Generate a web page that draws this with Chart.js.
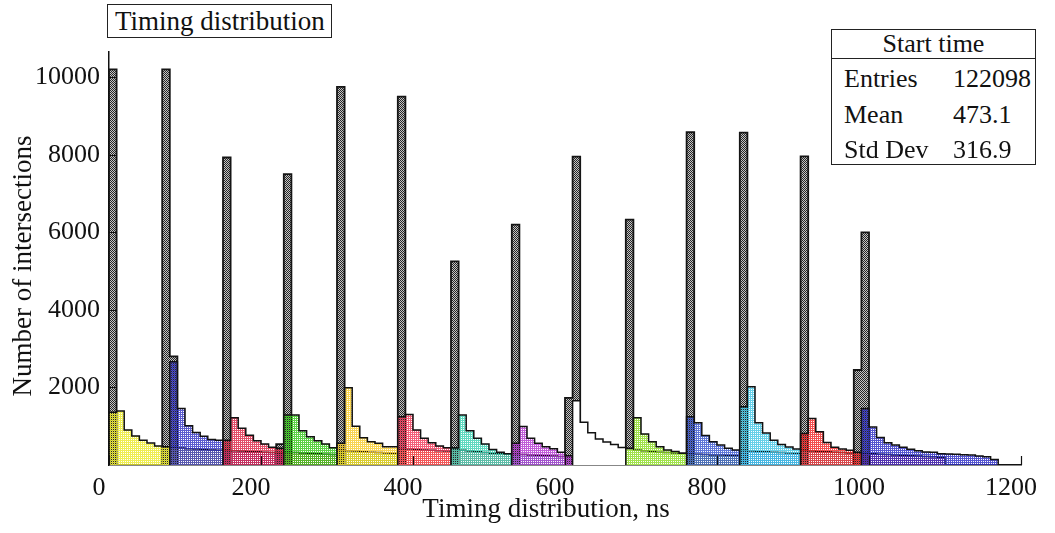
<!DOCTYPE html>
<html>
<head>
<meta charset="utf-8">
<script src="https://cdn.jsdelivr.net/npm/chart.js@4.4.1/dist/chart.umd.min.js"></script>
<style>
  html, body { margin: 0; padding: 0; background: #fff; }
  #wrap { position: relative; width: 1055px; height: 533px; font-family: "Liberation Serif", "Times New Roman", serif; color: #111; }
  #chart { position: absolute; left: 0; top: 0; }
  .box { position: absolute; border: 1px solid #222; box-sizing: border-box; background: #fff; }
  #title { left: 107px; top: 4px; width: 225px; height: 34px; font-size: 27px; line-height: 32px; padding-left: 7px; white-space: nowrap; }
  #stats { left: 831px; top: 29px; width: 205px; height: 136px; font-size: 26px; }
  #stats .head { height: 28px; line-height: 28px; text-align: center; border-bottom: 1px solid #222; }
  #stats .row { position: relative; height: 35.5px; line-height: 35.5px; }
  #stats .row span { position: absolute; }
  #stats .row .k { left: 12px; }
  #stats .row .v { left: 121px; }
  #xtitle { position: absolute; left: 346px; width: 400px; top: 492px; text-align: center; font-size: 27px; line-height: 32px; }
  #ytitle { position: absolute; left: 22px; top: 266px; width: 320px; margin-left: -160px; margin-top: -16px; text-align: center; font-size: 27px; line-height: 32px; transform: rotate(-90deg); white-space: nowrap; }
</style>
</head>
<body>
<div id="wrap">
  <canvas id="chart" width="1055" height="533"></canvas>
  <div id="title" class="box">Timing distribution</div>
  <div id="stats" class="box">
    <div class="head">Start time</div>
    <div style="height:2px"></div>
    <div class="row"><span class="k">Entries</span><span class="v">122098</span></div>
    <div class="row"><span class="k">Mean</span><span class="v">473.1</span></div>
    <div class="row"><span class="k">Std Dev</span><span class="v">316.9</span></div>
  </div>
  <div id="xtitle">Timing distribution, ns</div>
  <div id="ytitle">Number of intersections</div>
</div>
<script>
"use strict";

const binWidth = 10; // ns
const xTicks = [0, 200, 400, 600, 800, 1000, 1200];
const yTicks = [2000, 4000, 6000, 8000, 10000];

// "Start time" peaks: bin low edge (ns) and content
const startBins = [0, 70, 80, 150, 220, 230, 300, 380, 450, 530, 600, 610, 680, 760, 830, 910, 980, 990];
const startCounts = [10200, 10200, 2800, 7930, 540, 7500, 9750, 9500, 5250, 6200, 1730, 7950, 6330, 8580, 8570, 7960, 2450, 6000];

// coloured histograms: first bin low edge (ns) and bin contents
const yellowStart = 0;
const yellowCounts = [1360, 1390, 900, 750, 640, 570, 490, 470, 450, 440, 420, 410, 400, 390, 380];
const blueStart = 80;
const blueCounts = [2660, 1460, 1010, 840, 740, 660, 640, 380, 370, 360, 350, 340, 330, 320, 310];
const redStart = 150;
const redCounts = [640, 1220, 945, 770, 625, 540, 455, 430, 330, 320, 310, 300, 290, 280, 270];
const greenStart = 230;
const greenCounts = [1290, 1290, 880, 730, 625, 540, 445, 385, 370, 360, 340, 330, 320, 310, 300];
const goldStart = 300;
const goldCounts = [560, 1990, 1000, 700, 600, 560, 470, 470, 420, 410, 400, 390, 380, 370, 360];
const pinkStart = 380;
const pinkCounts = [1245, 1305, 900, 690, 575, 490, 445, 440, 380, 360, 340, 320, 300, 290, 280];
const tealStart = 450;
const tealCounts = [440, 1290, 880, 690, 540, 400, 330, 290, 280, 270, 260, 250, 240, 230, 220];
const purpleStart = 530;
const purpleCounts = [560, 990, 690, 560, 470, 420, 330, 240];
const whiteStart = 610;
const whiteCounts = [1660, 1100, 830, 670, 590, 530, 450, 420, 390, 370, 350, 330, 320, 310, 300];
const limeStart = 680;
const limeCounts = [430, 1220, 800, 600, 470, 385, 345, 300, 290, 280, 270, 260, 255, 250, 245];
const blue2Start = 760;
const blue2Counts = [1245, 1090, 760, 600, 515, 430, 385, 380, 360, 350, 340, 330, 320, 310, 300];
const cyanStart = 830;
const cyanCounts = [1500, 2020, 1090, 825, 640, 530, 465, 415, 380, 360, 350, 340, 330, 320, 310];
const red2Start = 910;
const red2Counts = [815, 1200, 860, 580, 460, 415, 380, 330, 300, 290, 280, 270, 260, 250, 240, 230, 220, 210, 200];
const blue3Start = 990;
const blue3Counts = [1460, 980, 710, 575, 515, 455, 405, 370, 335, 330, 290, 285, 280, 265, 255, 230, 215, 140];

const FONT = "'Liberation Serif', 'Times New Roman', serif";

// ROOT-like dotted fill
function dots(color) {
  const c = document.createElement("canvas");
  c.width = 2; c.height = 2;
  const g = c.getContext("2d");
  g.globalAlpha = 0.82;
  g.fillStyle = color;
  g.fillRect(0, 0, 2, 1);
  g.fillRect(0, 1, 1, 1);
  return g.createPattern(c, "repeat");
}

function grayDots() {
  const c = document.createElement("canvas");
  c.width = 2; c.height = 2;
  const g = c.getContext("2d");
  g.fillStyle = "#c4c4c4";
  g.fillRect(0, 0, 2, 2);
  g.fillStyle = "#262626";
  g.fillRect(0, 0, 1, 1);
  g.fillRect(1, 1, 1, 1);
  return g.createPattern(c, "repeat");
}

function histPoints(start, counts) {
  const pts = [{ x: start, y: 0 }];
  counts.forEach((c, i) => pts.push({ x: start + i * binWidth, y: c }));
  pts.push({ x: start + counts.length * binWidth, y: 0 });
  return pts;
}

function peakPoints(bins, counts) {
  const pts = [];
  let prevEnd = null;
  bins.forEach((b, i) => {
    if (b !== prevEnd) {
      if (prevEnd !== null) pts.push({ x: prevEnd, y: 0 });
      pts.push({ x: b, y: 0 });
    }
    pts.push({ x: b, y: counts[i] });
    prevEnd = b + binWidth;
  });
  pts.push({ x: prevEnd, y: 0 });
  return pts;
}

const layers = [
  [yellowStart, yellowCounts, dots("#ecea2c")],
  [blueStart, blueCounts, dots("#3838c4")],
  [redStart, redCounts, dots("#dc2848")],
  [greenStart, greenCounts, dots("#38c81c")],
  [goldStart, goldCounts, dots("#f6cc2c")],
  [pinkStart, pinkCounts, dots("#f03c5c")],
  [tealStart, tealCounts, dots("#3cd2b2")],
  [purpleStart, purpleCounts, dots("#b238d0")],
  [whiteStart, whiteCounts, "#ffffff"],
  [limeStart, limeCounts, dots("#8cdc24")],
  [blue2Start, blue2Counts, dots("#3c58d0")],
  [cyanStart, cyanCounts, dots("#44c6e4")],
  [red2Start, red2Counts, dots("#f02a2a")],
  [blue3Start, blue3Counts, dots("#3030c4")],
];

const datasets = [{
  data: peakPoints(startBins, startCounts),
  backgroundColor: grayDots(),
  borderColor: "#151515",
  borderWidth: 1.8,
  fill: "origin",
  stepped: true,
  pointRadius: 0,
  order: 100,
}];

layers.forEach(([start, counts, fillStyle], i) => {
  datasets.push({
    data: histPoints(start, counts),
    backgroundColor: fillStyle,
    borderColor: "#111",
    borderWidth: 1.5,
    fill: "origin",
    stepped: true,
    pointRadius: 0,
    order: 50 - i,
  });
});

// ROOT draws its tick marks inside the frame
const innerTicks = {
  id: "innerTicks",
  afterDatasetsDraw(chart) {
    const { ctx, chartArea, scales } = chart;
    ctx.save();
    ctx.strokeStyle = "#111";
    ctx.lineWidth = 1.2;
    ctx.beginPath();
    yTicks.forEach((v) => {
      const py = Math.round(scales.y.getPixelForValue(v)) + 0.5;
      ctx.moveTo(chartArea.left, py);
      ctx.lineTo(chartArea.left + 8, py);
    });
    xTicks.forEach((v) => {
      const px = Math.round(scales.x.getPixelForValue(v)) + 0.5;
      ctx.moveTo(px, chartArea.bottom);
      ctx.lineTo(px, chartArea.bottom - 9);
    });
    ctx.stroke();
    ctx.restore();
  },
};

new Chart(document.getElementById("chart"), {
  type: "line",
  data: { datasets },
  plugins: [innerTicks],
  options: {
    responsive: false,
    animation: false,
    events: [],
    layout: { padding: { left: 0, right: 28, top: 52, bottom: 0 } },
    plugins: { legend: { display: false }, tooltip: { enabled: false } },
    elements: { line: { tension: 0 } },
    scales: {
      x: {
        type: "linear",
        min: 0,
        max: 1200,
        grid: { display: false, drawTicks: false },
        border: { display: true, color: "#111", width: 1.5 },
        afterBuildTicks: (s) => { s.ticks = xTicks.map((v) => ({ value: v })); },
        ticks: {
          padding: 8,
          labelOffset: -10,
          maxRotation: 0,
          autoSkip: false,
          color: "#111",
          font: { family: FONT, size: 26 },
          callback: (v) => String(v),
        },
        afterFit: (s) => { s.height = 68; },
      },
      y: {
        type: "linear",
        min: 0,
        max: 10650,
        grid: { display: false, drawTicks: false },
        border: { display: true, color: "#111", width: 1.5 },
        afterBuildTicks: (s) => { s.ticks = yTicks.map((v) => ({ value: v })); },
        ticks: {
          padding: 9,
          color: "#111",
          font: { family: FONT, size: 26 },
          callback: (v) => String(v),
        },
        afterFit: (s) => { s.width = 109; },
      },
    },
  },
});
</script>
</body>
</html>
